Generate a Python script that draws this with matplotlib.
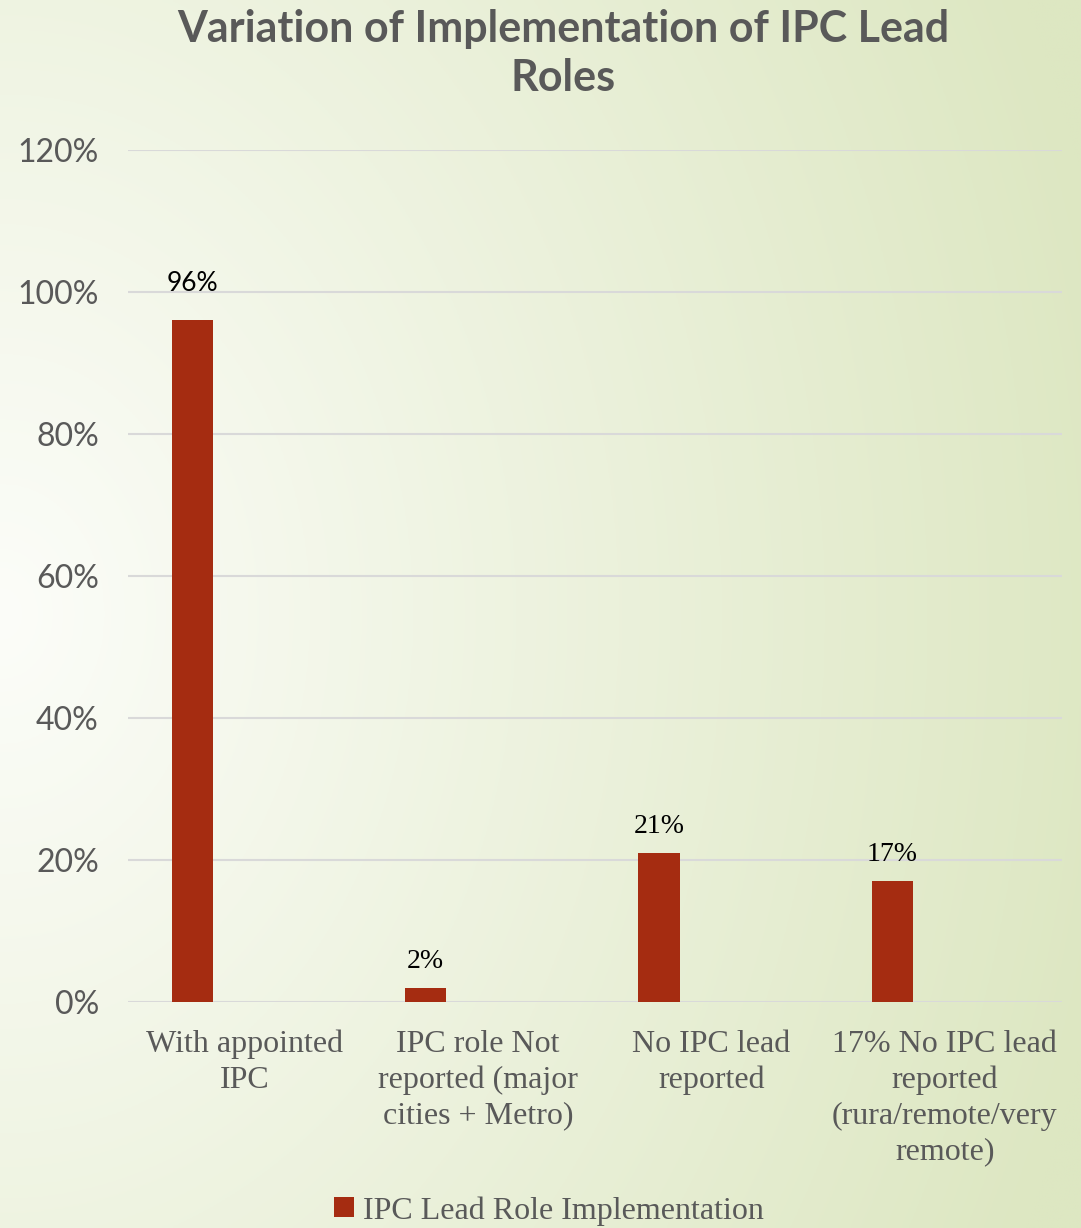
import matplotlib.pyplot as plt
import numpy as np
from matplotlib.ticker import PercentFormatter

# chart data
categories = ["With appointed\nIPC",
              "IPC role Not\nreported (major\ncities + Metro)",
              "No IPC lead\nreported",
              "17% No IPC lead\nreported\n(rura/remote/very\nremote)"]
values = [96, 2, 21, 17]
value_labels = ["96%", "2%", "21%", "17%"]
series_name = "IPC Lead Role Implementation"
y_ticks = [0, 20, 40, 60, 80, 100, 120]

bar_color = "#A52C11"
text_gray = "#595959"
grid_gray = "#D9D9D9"
serif = "Liberation Serif"
sans = "Lato"

fig = plt.figure(figsize=(10.81, 12.28), dpi=100)

# soft green gradient backdrop, lightest towards the left middle
bg = fig.add_axes([0, 0, 1, 1], zorder=-10)
xx, yy = np.meshgrid(np.linspace(0, 1, 400), np.linspace(0, 1, 400))
dist = np.sqrt((xx * 1.0) ** 2 + ((yy - 0.5) * 0.9) ** 2)
t = np.clip(dist / 1.05, 0, 1)
c0 = np.array([0xFC, 0xFD, 0xF9]) / 255
c1 = np.array([0xDD, 0xE7, 0xC2]) / 255
img = c0[None, None, :] * (1 - t[..., None]) + c1[None, None, :] * t[..., None]
bg.imshow(img, aspect="auto", extent=[0, 1, 0, 1], origin="upper")
bg.axis("off")

ax = fig.add_axes([0.1185, 0.184, 0.8635, 0.694])
ax.patch.set_alpha(0)

x = np.arange(len(categories))
offset = -0.225
bar_w = 0.176
ax.bar(x + offset, values, width=bar_w, color=bar_color, label=series_name, zorder=3)

for xi, v, lab in zip(x, values, value_labels):
    if lab == "96%":
        ax.text(xi + offset, v + 3.4, lab, ha="center", va="bottom",
                fontsize=19, family=sans, color="black")
    else:
        ax.text(xi + offset, v + 2.0, lab, ha="center", va="bottom",
                fontsize=20, family=serif, color="black")

ax.set_xlim(-0.5, len(categories) - 0.5)
ax.set_ylim(0, 120)
ax.set_yticks(y_ticks)
ax.yaxis.set_major_formatter(PercentFormatter(decimals=0))
ax.yaxis.grid(True, color=grid_gray, linewidth=1.5, zorder=0)
ax.set_axisbelow(True)
for s in ax.spines.values():
    s.set_visible(False)
ax.tick_params(axis="y", length=0, pad=21, labelsize=23, labelcolor=text_gray)
for lbl in ax.get_yticklabels():
    lbl.set_family(sans)

ax.set_xticks(x)
ax.set_xticklabels(categories, fontsize=23, family=serif, color=text_gray,
                   linespacing=1.3, va="top")
ax.tick_params(axis="x", length=0, pad=20)

fig.text(0.521, 0.993, "Variation of Implementation of IPC Lead\nRoles",
         ha="center", va="top", fontsize=31, fontweight="bold",
         family=sans, color=text_gray, linespacing=1.3)

leg = fig.legend(loc="center", bbox_to_anchor=(0.508, 0.014), frameon=False,
                 prop={"family": serif, "size": 23}, handlelength=0.6,
                 handleheight=0.6, handletextpad=0.3)
for txt in leg.get_texts():
    txt.set_color(text_gray)

fig.savefig("out.png", dpi=100)
